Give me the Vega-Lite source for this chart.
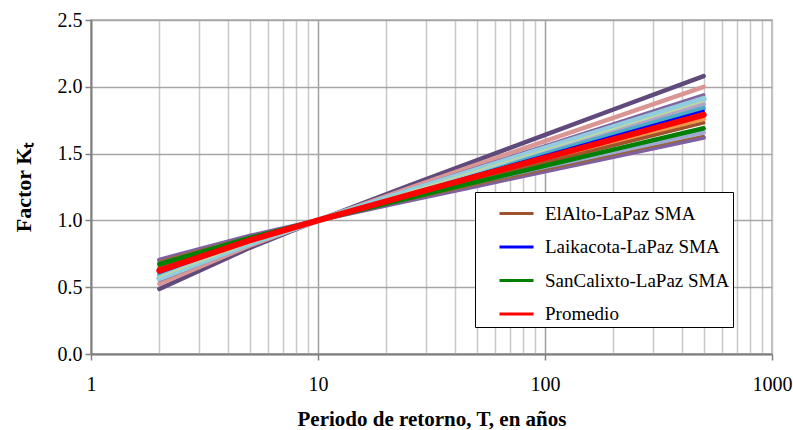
{
  "$schema": "https://vega.github.io/schema/vega-lite/v6.json",
  "width": 681,
  "height": 334,
  "autosize": "none",
  "padding": {"left": 91, "top": 20, "right": 21, "bottom": 76},
  "background": "white",
  "config": {
    "view": {"stroke": "#a6a6a6", "strokeWidth": 1.5},
    "font": "Liberation Serif"
  },
  "data": {"values": [
    {"s":"Serie 1","T":2,"K":0.487},{"s":"Serie 1","T":5,"K":0.795},{"s":"Serie 1","T":10,"K":1.0},{"s":"Serie 1","T":25,"K":1.258},{"s":"Serie 1","T":50,"K":1.45},{"s":"Serie 1","T":100,"K":1.64},{"s":"Serie 1","T":200,"K":1.83},{"s":"Serie 1","T":500,"K":2.08},
    {"s":"Serie 2","T":2,"K":0.525},{"s":"Serie 2","T":5,"K":0.811},{"s":"Serie 2","T":10,"K":1.0},{"s":"Serie 2","T":25,"K":1.239},{"s":"Serie 2","T":50,"K":1.417},{"s":"Serie 2","T":100,"K":1.593},{"s":"Serie 2","T":200,"K":1.768},{"s":"Serie 2","T":500,"K":2.0},
    {"s":"Serie 3","T":2,"K":0.553},{"s":"Serie 3","T":5,"K":0.822},{"s":"Serie 3","T":10,"K":1.0},{"s":"Serie 3","T":25,"K":1.225},{"s":"Serie 3","T":50,"K":1.392},{"s":"Serie 3","T":100,"K":1.557},{"s":"Serie 3","T":200,"K":1.722},{"s":"Serie 3","T":500,"K":1.94},
    {"s":"Serie 4","T":2,"K":0.567},{"s":"Serie 4","T":5,"K":0.828},{"s":"Serie 4","T":10,"K":1.0},{"s":"Serie 4","T":25,"K":1.218},{"s":"Serie 4","T":50,"K":1.379},{"s":"Serie 4","T":100,"K":1.54},{"s":"Serie 4","T":200,"K":1.699},{"s":"Serie 4","T":500,"K":1.91},
    {"s":"Serie 5","T":2,"K":0.577},{"s":"Serie 5","T":5,"K":0.831},{"s":"Serie 5","T":10,"K":1.0},{"s":"Serie 5","T":25,"K":1.213},{"s":"Serie 5","T":50,"K":1.371},{"s":"Serie 5","T":100,"K":1.528},{"s":"Serie 5","T":200,"K":1.684},{"s":"Serie 5","T":500,"K":1.89},
    {"s":"Serie 6","T":2,"K":0.586},{"s":"Serie 6","T":5,"K":0.835},{"s":"Serie 6","T":10,"K":1.0},{"s":"Serie 6","T":25,"K":1.208},{"s":"Serie 6","T":50,"K":1.363},{"s":"Serie 6","T":100,"K":1.516},{"s":"Serie 6","T":200,"K":1.669},{"s":"Serie 6","T":500,"K":1.87},
    {"s":"Serie 7","T":2,"K":0.601},{"s":"Serie 7","T":5,"K":0.841},{"s":"Serie 7","T":10,"K":1.0},{"s":"Serie 7","T":25,"K":1.201},{"s":"Serie 7","T":50,"K":1.35},{"s":"Serie 7","T":100,"K":1.498},{"s":"Serie 7","T":200,"K":1.645},{"s":"Serie 7","T":500,"K":1.84},
    {"s":"Laikacota-LaPaz SMA","T":2,"K":0.61},{"s":"Laikacota-LaPaz SMA","T":5,"K":0.845},{"s":"Laikacota-LaPaz SMA","T":10,"K":1.0},{"s":"Laikacota-LaPaz SMA","T":25,"K":1.196},{"s":"Laikacota-LaPaz SMA","T":50,"K":1.342},{"s":"Laikacota-LaPaz SMA","T":100,"K":1.486},{"s":"Laikacota-LaPaz SMA","T":200,"K":1.63},{"s":"Laikacota-LaPaz SMA","T":500,"K":1.82},
    {"s":"Promedio","T":2,"K":0.624},{"s":"Promedio","T":5,"K":0.85},{"s":"Promedio","T":10,"K":1.0},{"s":"Promedio","T":25,"K":1.189},{"s":"Promedio","T":50,"K":1.329},{"s":"Promedio","T":100,"K":1.468},{"s":"Promedio","T":200,"K":1.607},{"s":"Promedio","T":500,"K":1.79},
    {"s":"Serie 8","T":2,"K":0.639},{"s":"Serie 8","T":5,"K":0.856},{"s":"Serie 8","T":10,"K":1.0},{"s":"Serie 8","T":25,"K":1.182},{"s":"Serie 8","T":50,"K":1.317},{"s":"Serie 8","T":100,"K":1.451},{"s":"Serie 8","T":200,"K":1.584},{"s":"Serie 8","T":500,"K":1.76},
    {"s":"ElAlto-LaPaz SMA","T":2,"K":0.653},{"s":"ElAlto-LaPaz SMA","T":5,"K":0.862},{"s":"ElAlto-LaPaz SMA","T":10,"K":1.0},{"s":"ElAlto-LaPaz SMA","T":25,"K":1.175},{"s":"ElAlto-LaPaz SMA","T":50,"K":1.304},{"s":"ElAlto-LaPaz SMA","T":100,"K":1.433},{"s":"ElAlto-LaPaz SMA","T":200,"K":1.561},{"s":"ElAlto-LaPaz SMA","T":500,"K":1.73},
    {"s":"SanCalixto-LaPaz SMA","T":2,"K":0.672},{"s":"SanCalixto-LaPaz SMA","T":5,"K":0.869},{"s":"SanCalixto-LaPaz SMA","T":10,"K":1.0},{"s":"SanCalixto-LaPaz SMA","T":25,"K":1.165},{"s":"SanCalixto-LaPaz SMA","T":50,"K":1.288},{"s":"SanCalixto-LaPaz SMA","T":100,"K":1.409},{"s":"SanCalixto-LaPaz SMA","T":200,"K":1.53},{"s":"SanCalixto-LaPaz SMA","T":500,"K":1.69},
    {"s":"Serie 9","T":2,"K":0.686},{"s":"Serie 9","T":5,"K":0.875},{"s":"Serie 9","T":10,"K":1.0},{"s":"Serie 9","T":25,"K":1.158},{"s":"Serie 9","T":50,"K":1.275},{"s":"Serie 9","T":100,"K":1.391},{"s":"Serie 9","T":200,"K":1.507},{"s":"Serie 9","T":500,"K":1.66},
    {"s":"Serie 10","T":2,"K":0.698},{"s":"Serie 10","T":5,"K":0.88},{"s":"Serie 10","T":10,"K":1.0},{"s":"Serie 10","T":25,"K":1.152},{"s":"Serie 10","T":50,"K":1.265},{"s":"Serie 10","T":100,"K":1.376},{"s":"Serie 10","T":200,"K":1.488},{"s":"Serie 10","T":500,"K":1.635},
    {"s":"Serie 11","T":2,"K":0.705},{"s":"Serie 11","T":5,"K":0.883},{"s":"Serie 11","T":10,"K":1.0},{"s":"Serie 11","T":25,"K":1.148},{"s":"Serie 11","T":50,"K":1.258},{"s":"Serie 11","T":100,"K":1.368},{"s":"Serie 11","T":200,"K":1.476},{"s":"Serie 11","T":500,"K":1.62}
  ]},
  "encoding": {
    "x": {
      "field": "T", "type": "quantitative",
      "scale": {"type": "log", "domain": [1, 1000], "nice": false},
      "axis": {
        "title": "Periodo de retorno, T, en años",
        "titleFont": "Liberation Serif", "titleFontSize": 21, "titleFontWeight": "bold", "titleColor": "black",
        "titlePadding": 14,
        "values": [1,2,3,4,5,6,7,8,9,10,20,30,40,50,60,70,80,90,100,200,300,400,500,600,700,800,900,1000],
        "labelExpr": "(datum.value == 1 || datum.value == 10 || datum.value == 100 || datum.value == 1000) ? format(datum.value, 'd') : ''",
        "labelOverlap": false, "labelFlush": false,
        "labelFont": "Liberation Serif", "labelFontSize": 20, "labelColor": "black", "labelPadding": 14,
        "grid": true,
        "gridColor": {"condition": {"test": "datum.value == 10 || datum.value == 100", "value": "#a0a0a0"}, "value": "#c8c8c8"},
        "gridWidth": 1.5,
        "tickOpacity": {"condition": {"test": "datum.value == 1 || datum.value == 10 || datum.value == 100 || datum.value == 1000", "value": 1}, "value": 0},
        "tickColor": "#808080", "tickSize": 6, "tickWidth": 1.5,
        "domainColor": "#808080", "domainWidth": 2
      }
    },
    "y": {
      "field": "K", "type": "quantitative",
      "scale": {"domain": [0, 2.5], "nice": false, "zero": false},
      "axis": {
        "title": "Factor  Kₜ",
        "titleFont": "Liberation Serif", "titleFontSize": 22, "titleFontWeight": "bold", "titleColor": "black",
        "titlePadding": 22,
        "values": [0, 0.5, 1, 1.5, 2, 2.5],
        "format": ".1f",
        "labelFont": "Liberation Serif", "labelFontSize": 20, "labelColor": "black", "labelPadding": 3,
        "grid": true, "gridColor": "#a6a6a6", "gridWidth": 1.5,
        "tickColor": "#808080", "tickSize": 6, "tickWidth": 1.5,
        "domainColor": "#808080", "domainWidth": 2
      }
    },
    "color": {
      "field": "s", "type": "nominal",
      "scale": {
        "domain": ["ElAlto-LaPaz SMA","Laikacota-LaPaz SMA","SanCalixto-LaPaz SMA","Promedio","Serie 1","Serie 2","Serie 3","Serie 4","Serie 5","Serie 6","Serie 7","Serie 8","Serie 9","Serie 10","Serie 11"],
        "range": ["#A0522D","#0000FF","#008000","#FF0000","#604A7B","#D99694","#8064A2","#93CDDD","#C3D69B","#B3A2C7","#4BACC6","#F79646","#9DA9D3","#996633","#7F60A0"]
      },
      "legend": {
        "values": ["ElAlto-LaPaz SMA","Laikacota-LaPaz SMA","SanCalixto-LaPaz SMA","Promedio"],
        "title": null,
        "orient": "none", "legendX": 384, "legendY": 172,
        "symbolType": "stroke", "symbolSize": 1156, "symbolStrokeWidth": 3, "symbolOffset": 20,
        "labelOffset": 10,
        "labelFont": "Liberation Serif", "labelFontSize": 19, "labelColor": "black", "labelLimit": 400,
        "rowPadding": 4.5, "padding": 3,
        "strokeColor": "black", "fillColor": "white", "cornerRadius": 0
      }
    }
  },
  "layer": [
    {
      "transform": [{"filter": {"field": "s", "oneOf": ["Serie 1","Serie 2","Serie 6","Serie 7","Serie 8","Serie 9","Serie 11"]}}],
      "mark": {"type": "line", "strokeCap": "round", "strokeWidth": 4.5}
    },
    {
      "transform": [{"filter": {"field": "s", "oneOf": ["Serie 3"]}}],
      "mark": {"type": "line", "strokeCap": "round", "strokeWidth": 3.5}
    },
    {
      "transform": [{"filter": {"field": "s", "oneOf": ["Serie 4"]}}],
      "mark": {"type": "line", "strokeCap": "round", "strokeWidth": 6}
    },
    {
      "transform": [{"filter": {"field": "s", "oneOf": ["Serie 5","Serie 10"]}}],
      "mark": {"type": "line", "strokeCap": "round", "strokeWidth": 1.5}
    },
    {
      "transform": [{"filter": {"field": "s", "oneOf": ["Laikacota-LaPaz SMA"]}}],
      "mark": {"type": "line", "strokeCap": "round", "strokeWidth": 2.5}
    },
    {
      "transform": [{"filter": {"field": "s", "oneOf": ["ElAlto-LaPaz SMA"]}}],
      "mark": {"type": "line", "strokeCap": "round", "strokeWidth": 3.5}
    },
    {
      "transform": [{"filter": {"field": "s", "oneOf": ["SanCalixto-LaPaz SMA"]}}],
      "mark": {"type": "line", "strokeCap": "round", "strokeWidth": 4.5}
    },
    {
      "transform": [{"filter": {"field": "s", "equal": "Promedio"}}],
      "mark": {"type": "line", "strokeCap": "round", "strokeWidth": 6}
    }
  ]
}
